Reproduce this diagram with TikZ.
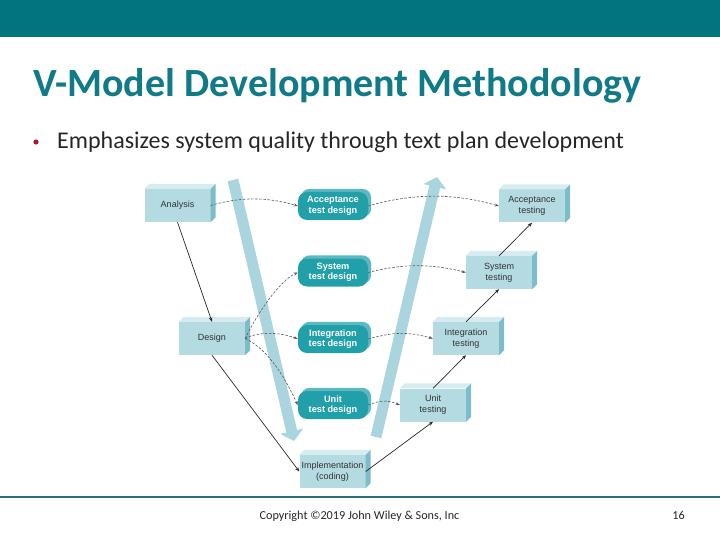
\documentclass[tikz,border=0pt]{standalone}
\usepackage{fontspec}
\setmainfont{Carlito}
\newfontfamily\arialf{Liberation Sans}
\usetikzlibrary{arrows.meta,backgrounds}
\definecolor{topbar}{HTML}{00757F}
\definecolor{titlecol}{HTML}{107A86}
\definecolor{bulletred}{HTML}{B0162A}
\definecolor{footline}{HTML}{2B6F77}
\definecolor{boxfront}{HTML}{B4DAE2}
\definecolor{boxtop}{HTML}{D6ECF0}
\definecolor{boxside}{HTML}{7DBCC9}
\definecolor{bigarr}{HTML}{ABD5DE}
\definecolor{tealbox}{HTML}{21A0AA}
\definecolor{tealback}{HTML}{5DB9C1}
\newcommand\threedfaces[1]{%
  \fill[boxtop] (#1.north west) -- ++(5,-5) -- ([shift={(5,-5)}]#1.north east) -- (#1.north east) -- cycle;
  \fill[boxside] (#1.north east) -- ++(5,-5) -- ([shift={(5,-5)}]#1.south east) -- (#1.south east) -- cycle;}
\newcommand\tealshadow[1]{%
  \begin{scope}[on background layer]
  \fill[tealback, rounded corners=9pt] ([shift={(3,-3)}]#1.south west) rectangle ([shift={(3,-3)}]#1.north east);
  \end{scope}}
\begin{document}
\begin{tikzpicture}[x=1pt,y=-1pt,
  lbox/.style={fill=boxfront, minimum width=66pt, minimum height=33pt, inner sep=1pt,
    font=\arialf\fontsize{9}{11}\selectfont, align=center, text=black!80},
  tbox/.style={fill=tealbox, rounded corners=9pt, minimum width=70pt, minimum height=28pt, inner sep=1pt,
    font=\arialf\bfseries\fontsize{9.2}{10.5}\selectfont, align=center, text=white},
  solidarr/.style={draw=black!85, line width=0.7pt, -{Stealth[length=4.5pt,width=3.5pt]}},
  dasharr/.style={draw=black!65, line width=0.6pt, dash pattern=on 2.5pt off 1.6pt, -{Stealth[length=4pt,width=3pt]}},
  bigarrow/.style={draw=bigarr, line width=11pt, -{Triangle[width=23pt,length=10pt]}}]
\useasboundingbox (0,0) rectangle (720,540);
\fill[topbar] (0,0) rectangle (720,37);
\node[anchor=base west, inner sep=0, text=titlecol, font=\fontsize{40}{48}\selectfont\bfseries] (title) at (33,97) {V-Model Development Methodology};
\fill[bulletred] (36,142) circle (2.6);
\node[anchor=base west, inner sep=0, text=black!85, font=\fontsize{24}{28}\selectfont] (bullet) at (57,149) {Emphasizes system quality through text plan development};
\draw[footline, line width=2pt] (0,497) -- (720,497);
\node[anchor=base, inner sep=0, text=black!85, font=\fontsize{12.2}{14}\selectfont] (copy) at (359.5,519) {Copyright ©2019 John Wiley \& Sons, Inc};
\node[anchor=base east, inner sep=0, text=black!85, font=\fontsize{12.2}{14}\selectfont] (page) at (685,519) {16};
% big V arrows
\coordinate (vl1) at (233,180);
\coordinate (vl2) at (294,441);
\coordinate (vr1) at (376,437);
\coordinate (vr2) at (437,177);
\draw[bigarrow] (vl1) -- (vl2);
\draw[bigarrow] (vr1) -- (vr2);
% left boxes
\node[lbox] (an) at (177.5,205.5) {Analysis};
\node[lbox] (de) at (212,338.5) {Design};
\node[lbox] (im) at (332.5,471.5) {Implementation\\(coding)};
% right boxes
\node[lbox] (at) at (532,206) {Acceptance\\testing};
\node[lbox] (st) at (499,272.5) {System\\testing};
\node[lbox] (it) at (466,338.5) {Integration\\testing};
\node[lbox] (ut) at (433,405) {Unit\\testing};
\threedfaces{an}\threedfaces{de}\threedfaces{im}
\threedfaces{at}\threedfaces{st}\threedfaces{it}\threedfaces{ut}
% teal boxes
\node[tbox] (atd) at (333,206) {Acceptance\\test design};
\node[tbox] (std) at (333,272.5) {System\\test design};
\node[tbox] (itd) at (333,339) {Integration\\test design};
\node[tbox] (utd) at (333,405) {Unit\\test design};
\tealshadow{atd}\tealshadow{std}\tealshadow{itd}\tealshadow{utd}
% solid connectors
\draw[solidarr] (an.south) -- (de.north);
\draw[solidarr] (de.south) -- (im.west);
\draw[solidarr] (im.east) -- (ut.south);
\draw[solidarr] (ut.north) -- (it.south);
\draw[solidarr] (it.north) -- (st.south);
\draw[solidarr] (st.north) -- (at.south);
% dashed connectors
\draw[dasharr] (an.east) .. controls +(30,-9) and +(-30,-9) .. (atd.west);
\draw[dasharr] (atd.east) .. controls +(45,-13) and +(-45,-13) .. (at.west);
\draw[dasharr] (std.east) .. controls +(35,-9) and +(-35,-9) .. (st.west);
\draw[dasharr] (itd.east) .. controls +(25,-7) and +(-25,-7) .. (it.west);
\draw[dasharr] (utd.east) .. controls +(12,-5) and +(-12,-5) .. (ut.west);
\draw[dasharr] (de.east) .. controls +(12,-25) and +(-18,8) .. (std.west);
\draw[dasharr] (de.east) .. controls +(15,-8) and +(-15,-6) .. (itd.west);
\draw[dasharr] (de.east) .. controls +(25,12) and +(-12,-25) .. (utd.west);
\end{tikzpicture}
\end{document}
